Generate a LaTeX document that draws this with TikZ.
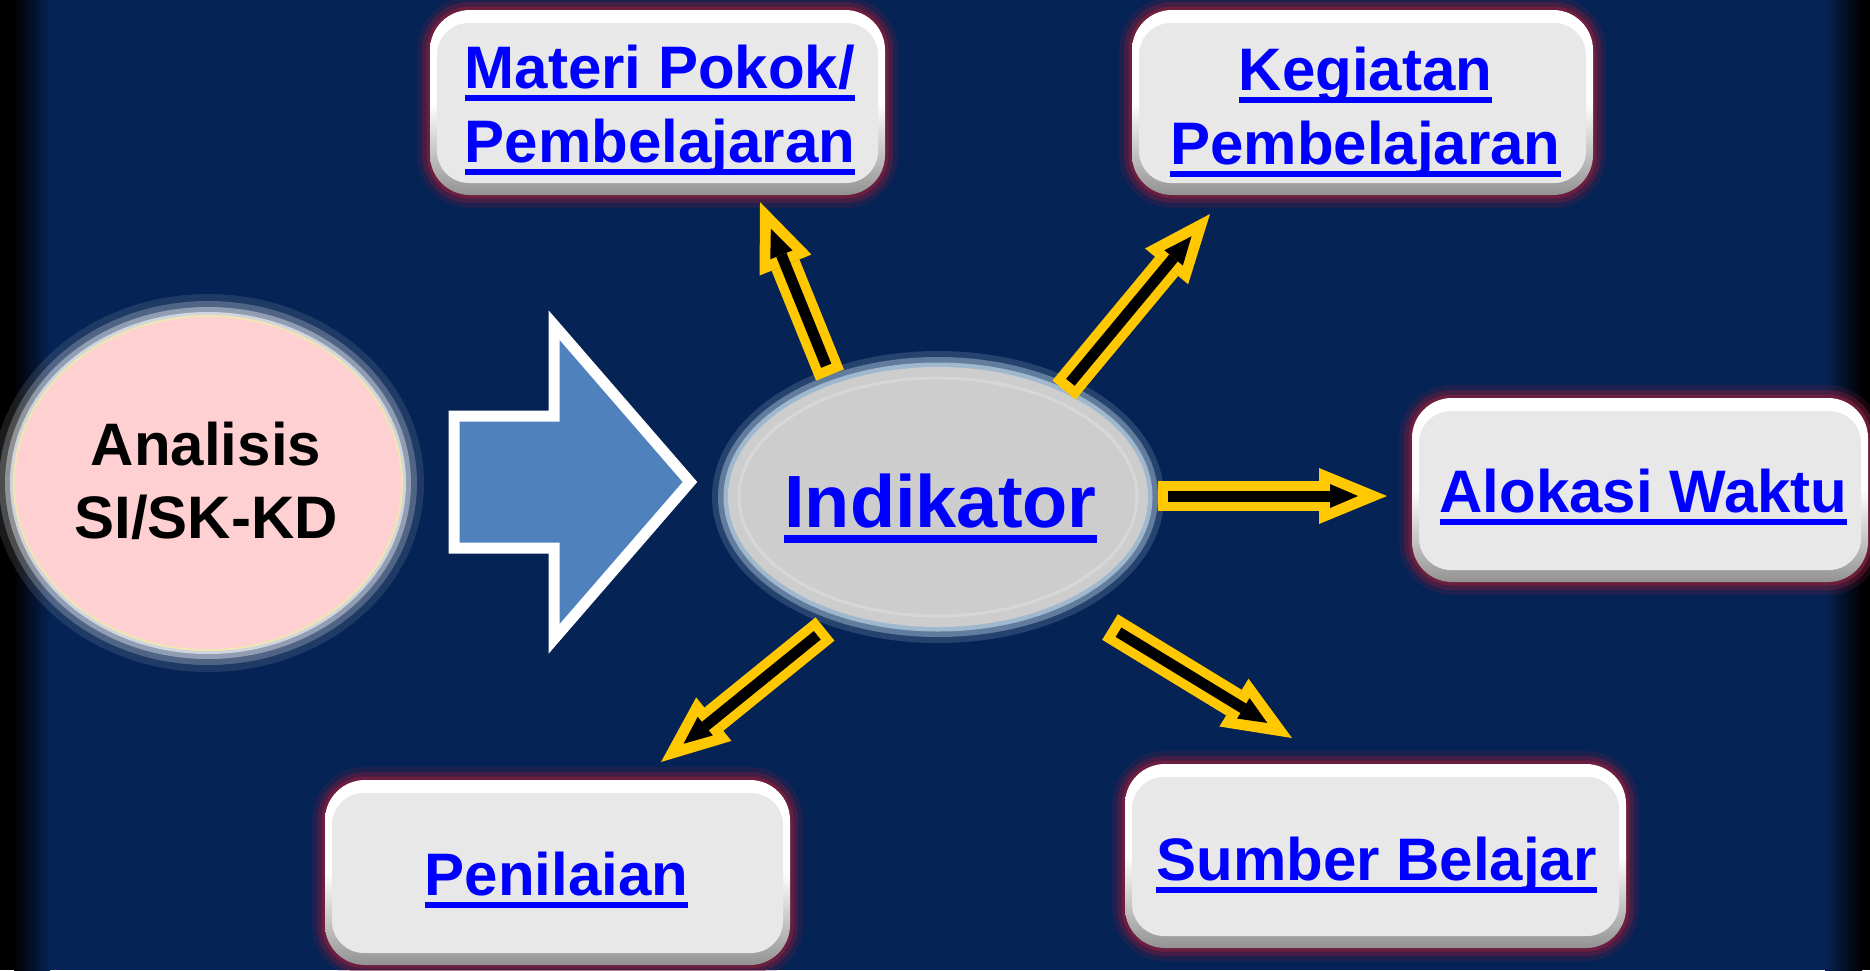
\documentclass[tikz,border=0pt]{standalone}
\usepackage{fontspec}
\setmainfont{Liberation Sans}
\usetikzlibrary{arrows.meta,shapes.geometric}
\definecolor{navy}{RGB}{6,35,85}
\definecolor{ayellow}{RGB}{255,200,0}
\definecolor{boxglow}{RGB}{115,30,60}
\definecolor{face}{RGB}{232,232,232}
\definecolor{pinkfill}{RGB}{255,208,210}
\definecolor{indfill}{RGB}{205,205,205}
\definecolor{indglow}{RGB}{170,195,215}
\definecolor{pinkglow}{RGB}{225,228,232}
\definecolor{bigblue}{RGB}{79,129,189}
\definecolor{linkblue}{RGB}{0,0,255}
\definecolor{rimcream}{RGB}{240,230,180}
\newcommand{\uln}[1]{\setbox0=\hbox{#1}\rlap{\rule[-0.22em]{\wd0}{0.11em}}\box0}
\newcommand{\duoarrow}[2]{%
  \draw[yarrow] (#1) -- (#2);
  \draw[karrow] (#1) -- (#2);}
\begin{document}
\begin{tikzpicture}[x=1pt,y=-1pt,
  box/.style={rounded corners=40pt, inner sep=0pt,
    preaction={draw=boxglow, line width=26pt, opacity=0.22},
    preaction={draw=boxglow, line width=16pt, opacity=0.45},
    preaction={draw=boxglow, line width=7pt, opacity=0.85},
    top color=white, bottom color=gray!85, middle color=white,
    path picture={\fill[face, rounded corners=32pt]
      ([xshift=7pt,yshift=-13pt]path picture bounding box.north west) rectangle
      ([xshift=-7pt,yshift=12pt]path picture bounding box.south east);}},
  txt/.style={inner sep=0pt, anchor=base, text=linkblue,
    font=\fontsize{60}{74}\selectfont\bfseries},
  yarrow/.style={draw=ayellow, line width=30pt,
    -{Triangle[length=68pt,width=56pt,line width=0pt]}},
  karrow/.style={draw=black, line width=11pt, shorten <=10pt, shorten >=29pt,
    -{Triangle[length=28pt,width=24pt,line width=0pt]}},
  bigarrow/.style={draw=white, fill=bigblue, line width=11pt, miter limit=10}
]
\useasboundingbox (0,0) rectangle (1870,970);
% background
\fill[navy] (0,0) rectangle (1870,970);
\shade[left color=black, right color=navy] (14,0) rectangle (50,970);
\fill[black] (0,0) rectangle (15,970);
\shade[left color=navy, right color=black] (1825,0) rectangle (1862,970);
\fill[black] (1861,0) rectangle (1870,970);

% boxes
\node[box, minimum width=455pt, minimum height=185pt] (materi) at (657.5,102.5) {};
\node[box, minimum width=461pt, minimum height=185pt] (kegiatan) at (1362.5,102.5) {};
\node[box, minimum width=456pt, minimum height=184pt] (alokasi) at (1640,490) {};
\node[box, minimum width=501pt, minimum height=184pt] (sumber) at (1375.5,856) {};
\node[box, minimum width=465pt, minimum height=185pt] (penilaian) at (557.5,872.5) {};

% ellipses
\node[ellipse, minimum width=388pt, minimum height=334pt, fill=pinkfill,
  draw=rimcream, line width=2pt,
  preaction={draw=pinkglow, line width=44pt, opacity=0.12},
  preaction={draw=pinkglow, line width=30pt, opacity=0.25},
  preaction={draw=pinkglow, line width=18pt, opacity=0.45},
  preaction={draw=pinkglow, line width=8pt, opacity=0.8}] (analisis) at (208,483) {};
\node[ellipse, minimum width=420pt, minimum height=260pt, fill=indfill,
  preaction={draw=indglow, line width=32pt, opacity=0.2},
  preaction={draw=indglow, line width=20pt, opacity=0.45},
  preaction={draw=indglow, line width=9pt, opacity=0.85}] (indikator) at (938,497) {};
\draw[white, opacity=0.22, line width=3pt] (indikator.center) ellipse [x radius=199pt, y radius=119pt];

% big blue arrow
\draw[bigarrow] (454,416) -- (554,416) -- (554,325) -- (690,482) -- (554,639)
  -- (554,548) -- (454,548) -- cycle;

% texts
\node[txt, text=black, font=\fontsize{60}{73}\selectfont\bfseries] (analisisT) at (206,465)
  {\begin{tabular}[t]{@{}c@{}}Analisis\\SI/SK-KD\end{tabular}};
\node[txt, font=\fontsize{74}{80}\selectfont\bfseries] (indikatorT) at (940.5,527) {\uln{Indikator}};
\node[txt] (materiT) at (660,88)
  {\begin{tabular}[t]{@{}c@{}}\uln{Materi Pokok/}\\\uln{Pembelajaran}\end{tabular}};
\node[txt] (kegiatanT) at (1365.5,90)
  {\begin{tabular}[t]{@{}c@{}}\uln{Kegiatan}\\\uln{Pembelajaran}\end{tabular}};
\node[txt] (alokasiT) at (1643.5,512) {\uln{Alokasi Waktu}};
\node[txt] (sumberT) at (1376.5,880) {\uln{Sumber Belajar}};
\node[txt] (penilaianT) at (556.5,895) {\uln{Penilaian}};

% yellow arrows
\coordinate (a1s) at (830,375);  \coordinate (a1e) at (760,202);
\coordinate (a2s) at (1064,390); \coordinate (a2e) at (1210,214);
\coordinate (a3s) at (1158,496); \coordinate (a3e) at (1387,496);
\coordinate (a4s) at (1110,627); \coordinate (a4e) at (1292,738);
\coordinate (a5s) at (825,629);  \coordinate (a5e) at (661,762);
\duoarrow{a1s}{a1e}
\duoarrow{a2s}{a2e}
\duoarrow{a3s}{a3e}
\duoarrow{a4s}{a4e}
\duoarrow{a5s}{a5e}
\end{tikzpicture}
\end{document}
